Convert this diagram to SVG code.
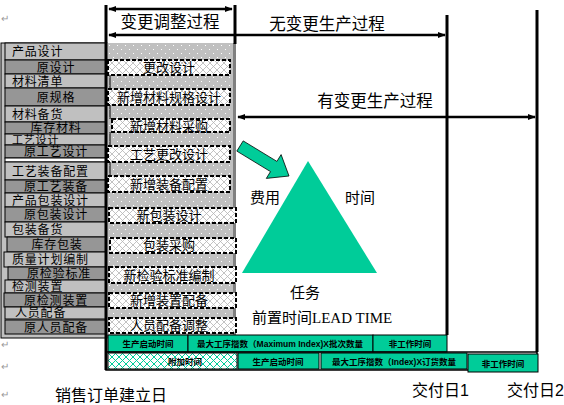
<svg xmlns="http://www.w3.org/2000/svg" width="564" height="405" viewBox="0 0 564 405">
<style>
  text { font-family: "Liberation Sans", "Noto Sans CJK SC", sans-serif; fill: #000; }
  .lt { font-size: 13px; }
  .lc { font-size: 12px; letter-spacing: 0.8px; }
  .lb { font-size: 15px; }
  .ctr { text-anchor: middle; }
  .hd { font-size: 16.5px; }
  .sm { font-size: 8.5px; font-weight: bold; text-anchor: middle; }
  .pm { font-size: 10px; fill: #999; }
  .light { fill: #c0c0c0; stroke: #000; stroke-width: 1; }
  .dark { fill: #969696; stroke: #000; stroke-width: 1; }
  .box { fill: url(#hatch); stroke: #000; stroke-width: 2; stroke-dasharray: 4 2; }
  .teal { fill: #00cc99; stroke: #000; stroke-width: 1; }
  .vl { stroke: #000; stroke-width: 3; fill: none; }
  .arr { stroke: #000; stroke-width: 2.5; fill: none; marker-start: url(#ah); marker-end: url(#ah); }
</style>
<defs>
  <pattern id="dots" width="8" height="8" patternUnits="userSpaceOnUse">
    <rect width="8" height="8" fill="#c0c0c0"/>
    <rect x="1" y="1" width="1" height="1" fill="#fff"/>
    <rect x="5" y="5" width="1" height="1" fill="#fff"/>
  </pattern>
  <pattern id="hatch" width="7" height="7" patternUnits="userSpaceOnUse">
    <rect width="7" height="7" fill="#fff"/>
    <path d="M0,0 L7,7 M7,0 L0,7" stroke="#b4b4b4" stroke-width="0.8"/>
  </pattern>
  <pattern id="thatch" width="7" height="7" patternUnits="userSpaceOnUse">
    <rect width="7" height="7" fill="#fff"/>
    <path d="M0,0 L7,7 M7,0 L0,7" stroke="#00cc99" stroke-width="1"/>
  </pattern>
  <marker id="ah" viewBox="0 0 10 10" refX="9" refY="5" markerWidth="3.2" markerHeight="3.2" orient="auto-start-reverse" markerUnits="strokeWidth">
    <path d="M0,1 L10,5 L0,9 z" fill="#000"/>
  </marker>
</defs>

<!-- paragraph marks -->
<text class="pm" x="1" y="22">↵</text>
<text class="pm" x="1" y="348">↵</text>
<text class="pm" x="1" y="370">↵</text>
<text class="pm" x="1" y="398">↵</text>

<!-- left column -->
<g id="left-column">
  <rect x="1" y="43" width="106" height="295" fill="#c0c0c0" stroke="#000"/>
  <rect class="light" x="5" y="43" width="101" height="17"/><text class="lc" x="12" y="56">产品设计</text>
  <rect class="dark" x="5" y="60" width="101" height="14"/><text class="lc ctr" x="56" y="71.5">原设计</text>
  <rect class="light" x="5" y="74" width="101" height="14"/><text class="lc" x="12" y="85.5">材料清单</text>
  <rect class="dark" x="5" y="88" width="101" height="18"/><text class="lc ctr" x="56" y="101.5">原规格</text>
  <rect class="light" x="5" y="106" width="101" height="16"/><text class="lc" x="12" y="118.5">材料备货</text>
  <rect class="dark" x="5" y="122" width="101" height="12"/><text class="lc ctr" x="56" y="132.3">库存材料</text>
  <rect class="light" x="5" y="134" width="101" height="11"/><text class="lc" x="12" y="143.6" style="font-size:11px">工艺设计</text>
  <rect class="dark" x="5" y="145" width="101" height="13"/><text class="lc ctr" x="56" y="156">原工艺设计</text>
  <rect x="5" y="158" width="101" height="4" fill="#fff" stroke="#000"/>
  <rect class="light" x="5" y="162" width="101" height="18"/><text class="lc" x="12" y="175.5">工艺装备配置</text>
  <rect class="dark" x="5" y="180" width="101" height="13"/><text class="lc ctr" x="56" y="191">原工艺装备</text>
  <rect class="light" x="5" y="193" width="101" height="14"/><text class="lc" x="12" y="204.5">产品包装设计</text>
  <rect class="dark" x="5" y="207" width="101" height="15"/><text class="lc ctr" x="56" y="219">原包装设计</text>
  <rect class="light" x="5" y="222" width="101" height="15"/><text class="lc" x="12" y="234">包装备货</text>
  <rect class="dark" x="7" y="237" width="99" height="15"/><text class="lc ctr" x="57" y="249">库存包装</text>
  <rect class="light" x="4" y="252" width="102" height="15"/><text class="lc" x="12" y="264">质量计划编制</text>
  <rect class="dark" x="8" y="267" width="98" height="13"/><text class="lc ctr" x="59" y="278">原检验标准</text>
  <rect class="light" x="5" y="280" width="101" height="13"/><text class="lc" x="12" y="291">检测装置</text>
  <rect class="dark" x="4" y="293" width="102" height="14"/><text class="lc ctr" x="56" y="304.5">原检测装置</text>
  <rect class="light" x="5" y="307" width="101" height="12"/><text class="lc" x="15" y="317.3">人员配备</text>
  <rect class="dark" x="5" y="320" width="103" height="14"/><text class="lc ctr" x="56" y="331.5">原人员配备</text>
</g>

<!-- middle column -->
<g id="middle-column">
  <rect x="107" y="43" width="127" height="292" fill="url(#dots)"/>
  <rect x="233" y="43" width="3" height="292" fill="#808080"/>
  <path d="M110,75 V88 M110,105 V119 M110,132 V146 M110,162 V175" stroke="#000" stroke-width="1"/>
  <rect class="box" x="108" y="60" width="122" height="15"/><text class="lt ctr" x="169" y="72">更改设计</text>
  <rect class="box" x="108" y="89" width="122" height="16"/><text class="lt ctr" x="169" y="102">新增材料规格设计</text>
  <rect class="box" x="112" y="119" width="118" height="13"/><text class="lt ctr" x="169" y="131">新增材料采购</text>
  <rect class="box" x="108" y="146" width="122" height="16"/><text class="lt ctr" x="169" y="159">工艺更改设计</text>
  <rect class="box" x="108" y="176" width="122" height="16"/><text class="lt ctr" x="169" y="189">新增装备配置</text>
  <rect class="box" x="109" y="208" width="127" height="15"/><text class="lt ctr" x="169" y="220">新包装设计</text>
  <rect class="box" x="110" y="238" width="126" height="15"/><text class="lt ctr" x="169" y="250">包装采购</text>
  <rect class="box" x="109" y="267" width="127" height="16"/><text class="lt ctr" x="169" y="280">新检验标准编制</text>
  <rect class="box" x="109" y="293" width="127" height="15"/><text class="lt ctr" x="169" y="305">新增装置配备</text>
  <rect class="box" x="109" y="318" width="127" height="15"/><text class="lt ctr" x="169" y="330">人员配备调整</text>
</g>

<!-- frame lines and arrows -->
<g id="connectors">
  <path class="vl" d="M106,5 V370"/>
  <path class="vl" d="M235,5 V44"/>
  <path class="vl" d="M447,15 V335"/>
  <path class="vl" d="M537,10 V352"/>
  <path class="arr" d="M109,9 H232"/>
  <path class="arr" d="M109,35 H445"/>
  <path class="arr" d="M238,117 H535"/>
</g>

<g id="headers">
  <text class="hd ctr" x="170" y="28">变更调整过程</text>
  <text class="hd ctr" x="327" y="30">无变更生产过程</text>
  <text class="hd ctr" x="375" y="107">有变更生产过程</text>
</g>

<!-- triangle and arrow -->
<g id="triangle">
  <polygon points="308,161 242,273 377,273" fill="#00cc99"/>
  <polygon points="236.8,151.1 243.2,140.9 276.9,161.4 281.1,154.6 289,176 266.3,178.4 270.5,171.6" fill="#00cc99" stroke="#000" stroke-width="0.8"/>
  <text class="lb" x="250" y="203">费用</text>
  <text class="lb" x="345" y="203">时间</text>
  <text class="lb" x="290" y="298">任务</text>
  <text class="lb" x="252" y="323" style="font-family:'Liberation Serif','Noto Sans CJK SC',serif">前置时间LEAD TIME</text>
</g>

<!-- bottom bars -->
<g id="bar-row1">
  <rect class="teal" x="108" y="335" width="80" height="17"/><text class="sm" x="148" y="347">生产启动时间</text>
  <rect class="teal" x="188" y="335" width="185" height="17"/><text class="sm" x="280" y="347">最大工序揩数（Maximum Index)X批次数量</text>
  <rect class="teal" x="373" y="335" width="74" height="17"/><text class="sm" x="410" y="347">非工作时间</text>
</g>
<g id="bar-row2">
  <rect x="106" y="352" width="431" height="18" fill="none" stroke="#000" stroke-width="1.5"/>
  <rect x="108" y="353" width="129" height="16" fill="url(#thatch)" stroke="#000" stroke-width="1"/><text class="sm" x="185" y="365">附加时间</text>
  <rect class="teal" x="238" y="353" width="81" height="16"/><text class="sm" x="278" y="365">生产启动时间</text>
  <rect class="teal" x="321" y="353" width="146" height="16"/><text class="sm" x="394" y="365">最大工序揩数（Index)X订货数量</text>
  <rect class="teal" x="468" y="354" width="70" height="18"/><text class="sm" x="503" y="367">非工作时间</text>
</g>

<g id="dates">
  <text class="hd" x="55" y="401" style="font-size:16px">销售订单建立日</text>
  <text class="hd" x="412" y="396" style="font-size:16px">交付日1</text>
  <text class="hd" x="507" y="396" style="font-size:16px">交付日2</text>
</g>
</svg>
